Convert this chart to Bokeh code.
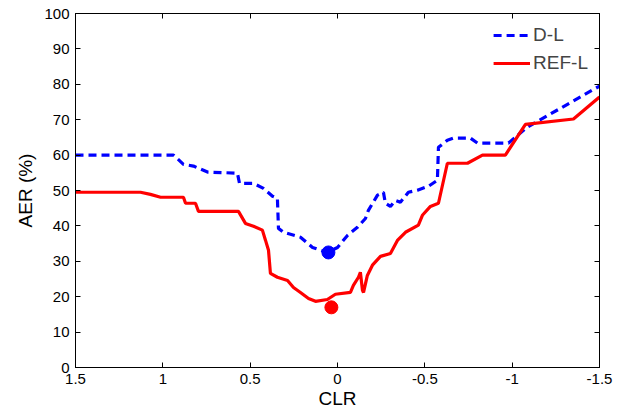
from bokeh.plotting import figure
from bokeh.models import Range1d, FixedTicker, LinearAxis, Legend, LegendItem, CustomJSTickFormatter
from bokeh.embed import file_html
from bokeh.resources import INLINE

# D-L curve (blue dashed)
dl_x = [1.5, 0.939, 0.882, 0.825, 0.744, 0.573, 0.561, 0.481, 0.424, 0.372, 0.344,
        0.338, 0.309, 0.212, 0.143, 0.058, 0.0, -0.057, -0.114, -0.160, -0.177,
        -0.229, -0.263, -0.274, -0.303, -0.332, -0.360, -0.406, -0.458, -0.521,
        -0.572, -0.578, -0.629, -0.664, -0.761, -0.801, -0.979, -1.087, -1.5]
dl_y = [60.0, 60.0, 57.4, 56.9, 55.2, 54.9, 52.0, 52.0, 50.6, 48.4, 47.8,
        39.3, 38.2, 36.8, 33.9, 32.5, 33.9, 37.3, 39.6, 42.1, 44.4,
        48.7, 49.5, 46.4, 45.5, 47.2, 46.7, 49.5, 50.1, 51.2,
        52.9, 62.2, 64.2, 64.8, 64.8, 63.4, 63.4, 67.9, 79.5]

# REF-L curve (red solid)
ref_x = [1.5, 1.128, 1.071, 1.013, 0.882, 0.870, 0.813, 0.796, 0.567, 0.527, 0.481,
         0.430, 0.412, 0.395, 0.384, 0.344, 0.286, 0.252, 0.212, 0.166, 0.126,
         0.058, 0.012, -0.074, -0.091, -0.120, -0.131, -0.143, -0.149, -0.171,
         -0.200, -0.246, -0.303, -0.343, -0.389, -0.463, -0.486, -0.532, -0.578,
         -0.629, -0.744, -0.830, -0.961, -1.076, -1.351, -1.5]
ref_y = [49.5, 49.5, 48.9, 48.1, 48.1, 46.4, 46.4, 44.1, 44.1, 40.7, 39.9,
         38.8, 35.9, 33.1, 26.6, 25.5, 24.6, 22.6, 21.2, 19.5, 18.7,
         19.2, 20.7, 21.2, 23.2, 25.5, 26.9, 21.8, 21.2, 26.0,
         28.9, 31.4, 32.2, 35.9, 38.2, 40.2, 43.0, 45.5, 46.4,
         57.7, 57.7, 60.0, 60.0, 68.7, 70.2, 76.4]

# Minimum markers
dl_min_x = [0.052]
dl_min_y = [32.5]
ref_min_x = [0.035]
ref_min_y = [17.0]

x_ticks = [1.5, 1.0, 0.5, 0.0, -0.5, -1.0, -1.5]
x_tick_labels = ["1.5", "1", "0.5", "0", "-0.5", "-1", "-1.5"]
y_ticks = [0, 10, 20, 30, 40, 50, 60, 70, 80, 90, 100]

FONT = "Liberation Sans"

p = figure(width=615, height=412, output_backend="svg", toolbar_location=None,
           x_range=Range1d(1.5, -1.5), y_range=Range1d(0, 100),
           min_border_left=75, min_border_right=16, min_border_top=13, min_border_bottom=45)
p.grid.visible = False
p.outline_line_color = "black"
p.background_fill_color = "white"
p.border_fill_color = "white"

xt = FixedTicker(ticks=x_ticks)
yt = FixedTicker(ticks=y_ticks)
overrides = {t: l for t, l in zip(x_ticks, x_tick_labels)}

for ax in p.xaxis:
    ax.ticker = xt
    ax.major_label_overrides = overrides
for ax in p.yaxis:
    ax.ticker = yt

for ax in list(p.xaxis) + list(p.yaxis):
    ax.major_tick_in = 5
    ax.major_tick_out = 0
    ax.minor_tick_line_color = None
    ax.major_label_text_font = FONT
    ax.major_label_text_font_size = "15px"
    ax.major_label_text_color = "black"
    ax.axis_label_text_font = FONT
    ax.axis_label_text_font_size = "19px"
    ax.axis_label_text_font_style = "normal"
    ax.axis_label_text_color = "black"
    ax.axis_line_color = "black"
    ax.major_tick_line_color = "black"

p.xaxis.axis_label = "CLR"
p.yaxis.axis_label = "AER (%)"
p.xaxis.major_label_standoff = 6
p.xaxis.axis_label_standoff = 1
p.yaxis.major_label_standoff = 6
p.yaxis.axis_label_standoff = 5

blank = CustomJSTickFormatter(code="return ''")
top = LinearAxis(ticker=xt, formatter=blank, major_tick_in=5, major_tick_out=0,
                 minor_tick_line_color=None, major_label_standoff=0)
right = LinearAxis(ticker=yt, formatter=blank, major_tick_in=5, major_tick_out=0,
                   minor_tick_line_color=None, major_label_standoff=0)
p.add_layout(top, "above")
p.add_layout(right, "right")

r_dl = p.line(dl_x, dl_y, line_color="#0000FF", line_width=3.2, line_dash="8 5")
r_ref = p.line(ref_x, ref_y, line_color="#FF0000", line_width=3.2)
p.scatter(dl_min_x, dl_min_y, size=13, fill_color="#0000FF", line_color="#0000FF")
p.scatter(ref_min_x, ref_min_y, size=13, fill_color="#FF0000", line_color="#FF0000")

legend = Legend(items=[LegendItem(label="D-L", renderers=[r_dl]),
                       LegendItem(label="REF-L", renderers=[r_ref])],
                location="top_right", border_line_alpha=0, background_fill_alpha=0,
                label_text_font=FONT, label_text_font_size="19px",
                glyph_width=37, glyph_height=20, label_height=20, label_standoff=3,
                spacing=6, margin=6, padding=5)
p.add_layout(legend)

open("out.html", "w").write(file_html(p, INLINE))
